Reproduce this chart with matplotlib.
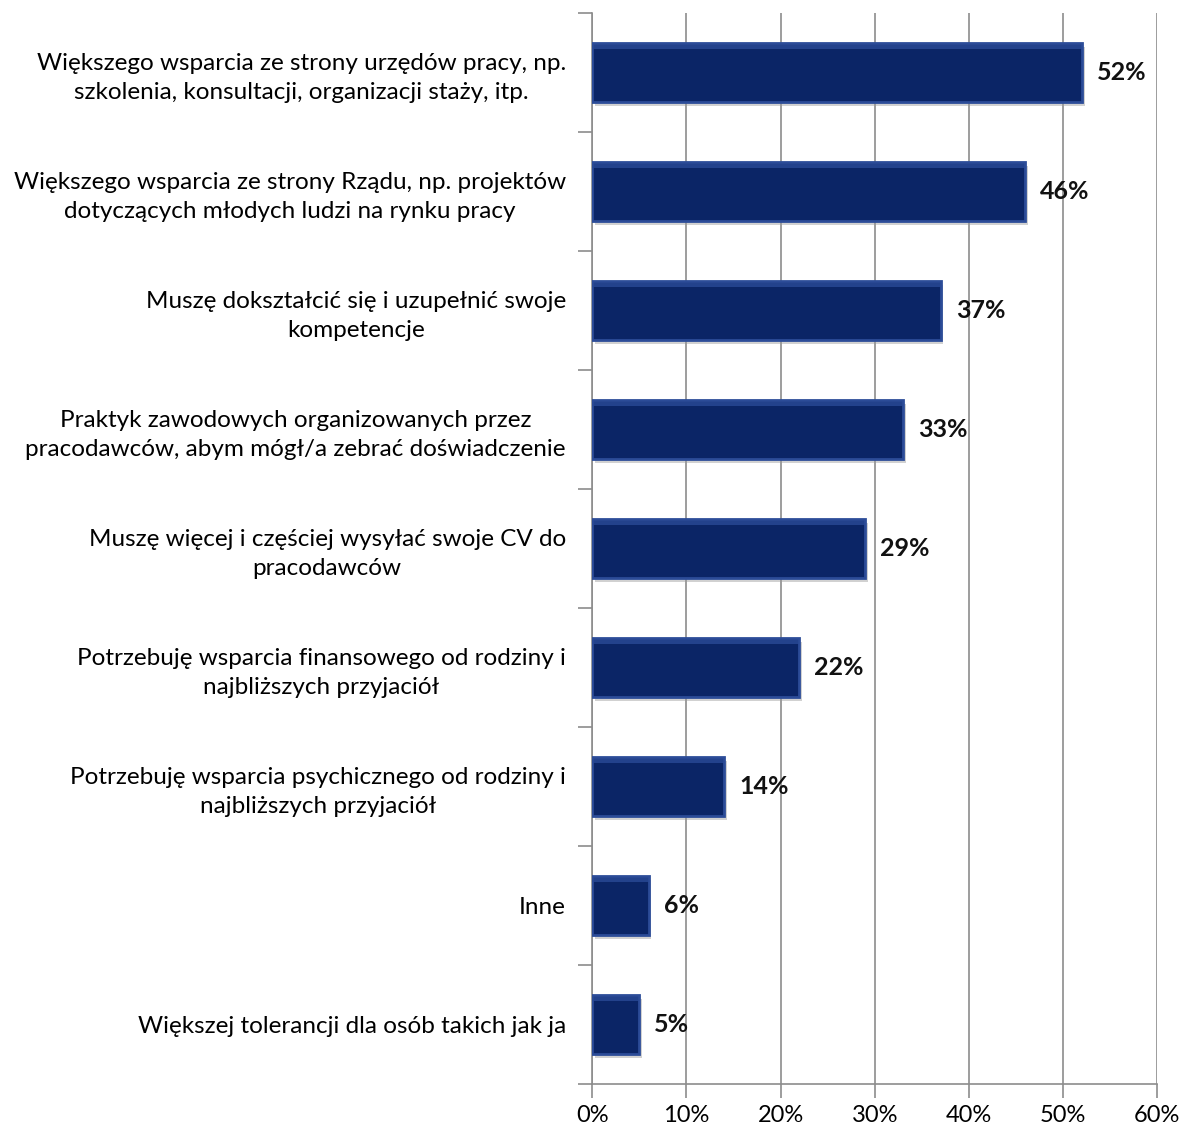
import matplotlib.pyplot as plt
import matplotlib.patheffects as pe
from matplotlib.ticker import MultipleLocator, FuncFormatter

plt.rcParams['font.family'] = ['Lato', 'DejaVu Sans']

labels = [
    'Większego wsparcia ze strony urzędów pracy, np.\nszkolenia, konsultacji, organizacji staży, itp.',
    'Większego wsparcia ze strony Rządu, np. projektów\ndotyczących młodych ludzi na rynku pracy',
    'Muszę dokształcić się i uzupełnić swoje\nkompetencje',
    'Praktyk zawodowych organizowanych przez\npracodawców, abym mógł/a zebrać doświadczenie',
    'Muszę więcej i częściej wysyłać swoje CV do\npracodawców',
    'Potrzebuję wsparcia finansowego od rodziny i\nnajbliższych przyjaciół',
    'Potrzebuję wsparcia psychicznego od rodziny i\nnajbliższych przyjaciół',
    'Inne',
    'Większej tolerancji dla osób takich jak ja',
]
values = [52, 46, 37, 33, 29, 22, 14, 6, 5]

fig = plt.figure(figsize=(11.82, 11.28), dpi=100)
ax = fig.add_axes([0.501, 0.039, 0.478, 0.9495])

ypos = list(range(len(values)))[::-1]
bars = ax.barh(ypos, values, height=0.5, color='#0b2566', edgecolor='#2c4c98',
               linewidth=2, zorder=3)
for b in bars:
    b.set_path_effects([pe.SimplePatchShadow(offset=(2, -3), shadow_rgbFace='#999999', alpha=0.45),
                        pe.Normal()])
# subtle lighter strip along the top edge of each bar
ax.barh([y + 0.215 for y in ypos], values, height=0.04, color='#2a4a96',
        linewidth=0, alpha=0.8, zorder=4)

for y, v in zip(ypos, values):
    ax.text(v + 1.6, y, f'{v}%', va='center', ha='left', fontsize=18,
            fontweight='bold', color='#111111', zorder=5)

ax.set_xlim(0, 60)
ax.set_ylim(-0.5, len(values) - 0.5)
ax.xaxis.set_major_locator(MultipleLocator(10))
ax.xaxis.set_major_formatter(FuncFormatter(lambda x, p: f'{x:.0f}%'))
ax.grid(axis='x', color='#8c8c8c', linewidth=1.2, zorder=0)

ax.set_yticks(ypos)
ax.set_yticklabels(labels, fontsize=17.5, multialignment='center', linespacing=1.45)
ax.set_yticks([y + 0.5 for y in range(len(values))] + [-0.5], minor=True)
ax.tick_params(axis='y', which='major', length=0, pad=19)
ax.tick_params(axis='y', which='minor', length=10, color='#8c8c8c', width=1.2)
ax.tick_params(axis='x', length=10, color='#8c8c8c', width=1.2, labelsize=17, pad=5)

for s in ['top', 'right']:
    ax.spines[s].set_visible(False)
for s in ['left', 'bottom']:
    ax.spines[s].set_color('#8c8c8c')
    ax.spines[s].set_linewidth(1.2)

fig.savefig('out.png', dpi=100)
